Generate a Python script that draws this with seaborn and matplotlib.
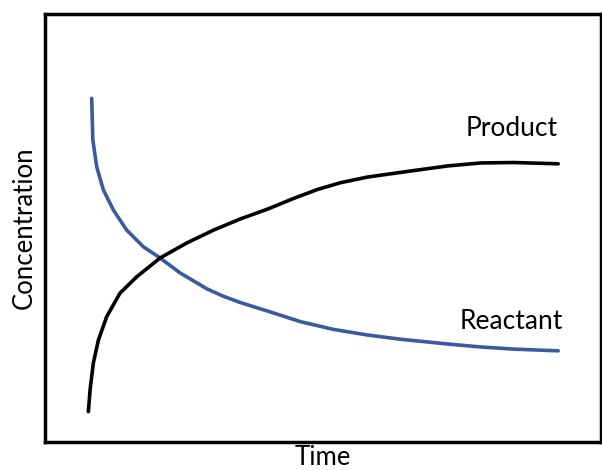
import matplotlib
matplotlib.use("Agg")
import matplotlib.pyplot as plt
import seaborn as sns
import pandas as pd

reactant_time = [8.4, 8.6, 9.3, 10.5, 12.3, 14.7, 17.7, 20.7, 24.3, 29.1, 32.0, 35.1, 40.0, 46.0, 51.9,
                 58.0, 64.0, 72.4, 78.4, 84.3, 92.3]
reactant_conc = [80.3, 70.6, 64.3, 58.9, 54.2, 49.5, 45.6, 43.0, 39.5, 35.8, 34.1, 32.6, 30.6, 28.1, 26.3,
                 25.0, 24.0, 22.9, 22.2, 21.7, 21.3]

product_time = [7.8, 8.1, 8.7, 9.6, 11.1, 13.5, 16.5, 20.7, 25.5, 30.3, 35.1, 40.0, 44.7, 49.0,
                53.2, 58.0, 64.0, 72.4, 78.4, 84.3, 92.3]
product_conc = [7.1, 12.1, 18.5, 23.8, 29.3, 34.8, 38.6, 43.0, 46.5, 49.5, 52.1, 54.4, 56.9, 59.0,
                60.6, 61.9, 63.0, 64.5, 65.2, 65.3, 65.0]

sns.set_theme(style="white")
plt.rcParams['font.family'] = ['Lato', 'DejaVu Sans']

fig = plt.figure(figsize=(6.02, 4.70), dpi=100)
ax = fig.add_axes([45/602, 28/470, 556/602, 428/470])

df_r = pd.DataFrame({"Time": reactant_time, "Concentration": reactant_conc})
df_p = pd.DataFrame({"Time": product_time, "Concentration": product_conc})
sns.lineplot(data=df_r, x="Time", y="Concentration", ax=ax, color="#3A5A9C", lw=2.6, sort=False)
sns.lineplot(data=df_p, x="Time", y="Concentration", ax=ax, color="black", lw=2.6, sort=False)

ax.set_xlim(0, 100)
ax.set_ylim(0, 100)
ax.set_xticks([])
ax.set_yticks([])
for s in ax.spines.values():
    s.set_visible(True)
    s.set_color("black")
    s.set_linewidth(2.5)

ax.set_xlabel("Time", fontsize=18.5, labelpad=2.5, color="black")
ax.set_ylabel("Concentration", fontsize=18.5, labelpad=6, color="black")

ax.text(92.3, 70.3, "Product", fontsize=19, ha="right", va="bottom", color="black")
ax.text(93.2, 25.3, "Reactant", fontsize=19, ha="right", va="bottom", color="black")

fig.savefig("out.png", dpi=100)
